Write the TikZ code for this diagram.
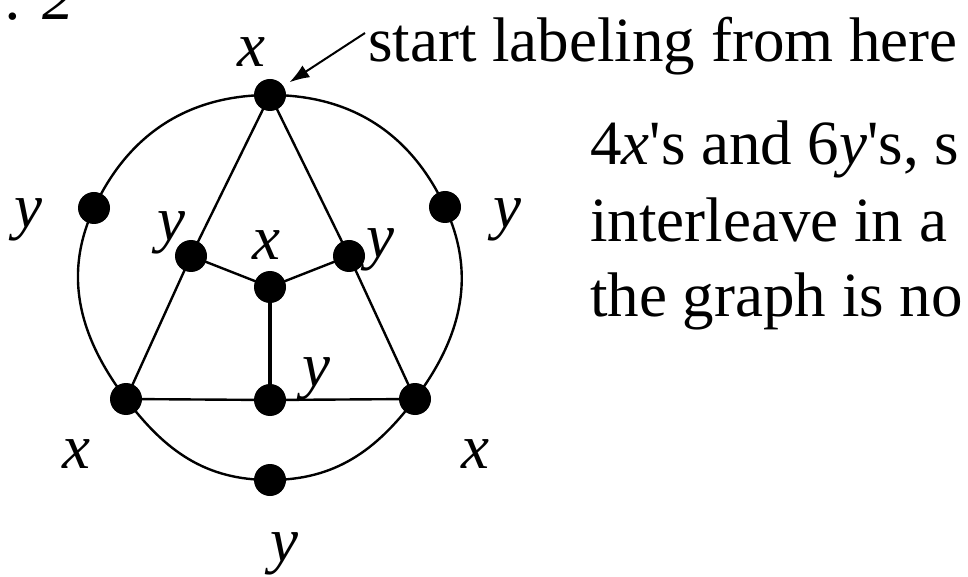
\documentclass[tikz,border=0pt]{standalone}
\usepackage{fontspec}
\setmainfont{Liberation Serif}
\usetikzlibrary{arrows.meta}
\newcommand\bigfnt{\fontsize{63}{76}\selectfont}
\begin{document}
\begin{tikzpicture}[x=1pt,y=1pt,
  dot/.style={circle,fill=black,inner sep=0pt,minimum size=32pt},
  lab/.style={inner sep=0pt,anchor=base,font=\bigfnt\itshape},
  txt/.style={inner sep=0pt,anchor=base west,font=\bigfnt},
  edge/.style={line width=2.4pt},
  thickedge/.style={line width=3.6pt}]
\useasboundingbox (0,0) rectangle (968,576);
% vertices
\node[dot] (top) at (270,481) {};
\node[dot] (yl)  at (94,368) {};
\node[dot] (yr)  at (445,369) {};
\node[dot] (il)  at (191,320) {};
\node[dot] (ir)  at (349,320) {};
\node[dot] (c)   at (270,289) {};
\node[dot] (bl)  at (126,177) {};
\node[dot] (bc)  at (270,176) {};
\node[dot] (br)  at (415,177) {};
\node[dot] (bot) at (270,96) {};
% outer cycle
\draw[edge] (top.center) to[out=180,in=65] (yl.center)
  to[out=245,in=127] (bl.center)
  to[out=307,in=180] (bot.center)
  to[out=0,in=233] (br.center)
  to[out=53,in=295] (yr.center)
  to[out=115,in=0] (top.center);
% inner edges
\draw[edge] (top.center) -- (il.center) -- (bl.center);
\draw[edge] (top.center) -- (ir.center) -- (br.center);
\draw[edge] (bl.center) -- (bc.center) -- (br.center);
\draw[edge] (il.center) -- (c.center) -- (ir.center);
\draw[thickedge] (c.center) -- (bc.center);
% labels
\node[lab] (ltop) at (251,509) {x};
\node[lab] (lyl)  at (28,348) {y};
\node[lab] (lil)  at (171,335) {y};
\node[lab] (lc)   at (266,316) {x};
\node[lab] (lir)  at (380,318) {y};
\node[lab] (lyr)  at (507,348) {y};
\node[lab] (lbc)  at (316,190) {y};
\node[lab] (lbl)  at (76,108) {x};
\node[lab] (lbr)  at (475,108) {x};
\node[lab] (lbot) at (284,15) {y};
% top-left caption fragment
\node[txt,font=\bigfnt\itshape] (cap) at (6,556) {. 2};
% annotation
\node[txt] (start) at (368,514) {start labeling from here};
\coordinate (as) at (365,543);
\draw[line width=2pt,-{Latex[length=20pt,width=14pt]},shorten >=7pt] (as) -- (top);
% right text
\node[txt] (t1) at (590,411) {4\textit{x}\textquotesingle s and 6\textit{y}\textquotesingle s, s};
\node[txt] (t2) at (590,334) {interleave in a};
\node[txt] (t3) at (590,259) {the graph is no};
\end{tikzpicture}
\end{document}
